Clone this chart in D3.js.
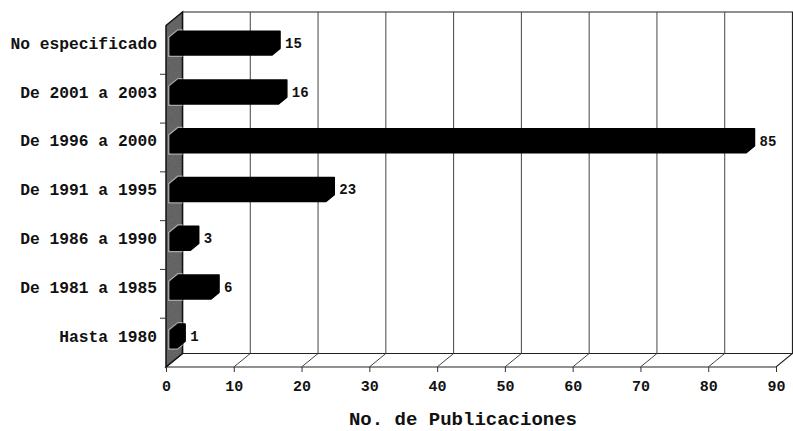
<!DOCTYPE html>
<html>
<head>
<meta charset="utf-8">
<script src="https://cdn.jsdelivr.net/npm/d3@7.9.0/dist/d3.min.js"></script>
<style>
  body { margin: 0; background: #fff; }
  text { font-family: "Courier New", "Liberation Mono", monospace; font-weight: bold; fill: #111; }
</style>
</head>
<body>
<svg id="chart" width="793" height="431"></svg>
<script>
const categories = ["No especificado", "De 2001 a 2003", "De 1996 a 2000", "De 1991 a 1995",
                    "De 1986 a 1990", "De 1981 a 1985", "Hasta 1980"];
const values = [15, 16, 85, 23, 3, 6, 1];
const tickValues = [0, 10, 20, 30, 40, 50, 60, 70, 80, 90];
const axisTitle = "No. de Publicaciones";

const svg = d3.select("#chart");

// 3d depth offset (full depth of the box)
const DX = 16.5, DY = 13.5;
const x = d3.scaleLinear().domain([0, 90]).range([166, 776]);
const y = d3.scaleBand().domain(categories).range([25.5, 367]);
const yTop = y.range()[0], yBot = y.range()[1];

const p = (px, py, d) => [px + DX * d, py - DY * d];
const poly = pts => "M" + pts.map(q => q.join(",")).join("L") + "Z";

// back wall
svg.append("path")
  .attr("d", poly([p(x(0), yTop, 1), p(x(90), yTop, 1), p(x(90), yBot, 1), p(x(0), yBot, 1)]))
  .attr("fill", "#fff").attr("stroke", "#222").attr("stroke-width", 1.2);

// vertical gridlines on back wall
svg.append("g").selectAll("line")
  .data(tickValues.slice(1, -1))
  .join("line")
  .attr("x1", d => p(x(d), yTop, 1)[0]).attr("x2", d => p(x(d), yBot, 1)[0])
  .attr("y1", p(0, yTop, 1)[1]).attr("y2", p(0, yBot, 1)[1])
  .attr("stroke", "#444").attr("stroke-width", 1);

// floor
svg.append("path")
  .attr("d", poly([p(x(0), yBot, 0), p(x(90), yBot, 0), p(x(90), yBot, 1), p(x(0), yBot, 1)]))
  .attr("fill", "#fff").attr("stroke", "#222").attr("stroke-width", 1.2);

svg.append("g").selectAll("line")
  .data(tickValues.slice(1, -1))
  .join("line")
  .attr("x1", d => x(d)).attr("y1", yBot)
  .attr("x2", d => p(x(d), yBot, 1)[0]).attr("y2", p(0, yBot, 1)[1])
  .attr("stroke", "#444").attr("stroke-width", 1);

// left side wall
const wallPts = [p(x(0), yTop, 0), p(x(0), yTop, 1), p(x(0), yBot, 1), p(x(0), yBot, 0)];
const defs = svg.append("defs");
const filt = defs.append("filter").attr("id", "grain");
filt.append("feTurbulence").attr("type", "fractalNoise").attr("baseFrequency", 0.9).attr("numOctaves", 2).attr("seed", 3).attr("result", "n");
filt.append("feColorMatrix").attr("in", "n").attr("type", "matrix")
  .attr("values", "0 0 0 0 0.15  0 0 0 0 0.15  0 0 0 0 0.15  0 0 0 1.1 0").attr("result", "g");
filt.append("feComposite").attr("in", "g").attr("in2", "SourceGraphic").attr("operator", "in").attr("result", "gc");
filt.append("feMerge").selectAll("feMergeNode").data(["SourceGraphic", "gc"]).join("feMergeNode").attr("in", d => d);

defs.append("clipPath").attr("id", "wallClip").append("path").attr("d", poly(wallPts));

svg.append("path")
  .attr("d", poly(wallPts))
  .attr("fill", "#5a5a5a").attr("filter", "url(#grain)");
svg.append("path")
  .attr("d", poly(wallPts))
  .attr("fill", "none").attr("stroke", "#111").attr("stroke-width", 1.5);

// bars
const f0 = 0.25, f1 = 0.75, half = 8.6;
function barPath(cat, v) {
  const c = y(cat) + y.bandwidth() / 2;
  const fT = p(x(0), c - half, f0), fB = p(x(0), c + half, f0);
  const bT = p(x(0), c - half, f1);
  const fvB = p(x(v), c + half, f0);
  const bvT = p(x(v), c - half, f1), bvB = p(x(v), c + half, f1);
  return poly([fT, bT, bvT, bvB, fvB, fB]);
}
const data = categories.map((c, i) => ({ cat: c, v: values[i] }));

svg.append("g").attr("clip-path", "url(#wallClip)").selectAll("path")
  .data(data).join("path")
  .attr("d", d => barPath(d.cat, d.v))
  .attr("fill", "none").attr("stroke", "#a8a8a8").attr("stroke-width", 4);

svg.append("g").selectAll("path")
  .data(data).join("path")
  .attr("d", d => barPath(d.cat, d.v))
  .attr("fill", "#000").attr("stroke", "#000").attr("stroke-width", 1.5)
  .attr("stroke-linejoin", "round");

// value labels
svg.append("g").selectAll("text")
  .data(data).join("text")
  .attr("x", d => p(x(d.v), 0, f1)[0] + 5)
  .attr("y", d => y(d.cat) + y.bandwidth() / 2 - DY * 0.5)
  .attr("dy", "0.35em")
  .style("font-size", "14px")
  .text(d => d.v);

// category labels and ticks
svg.append("g").selectAll("text")
  .data(categories).join("text")
  .attr("x", 157)
  .attr("y", d => y(d) + y.bandwidth() / 2 - DY * 0.5)
  .attr("dy", "0.35em")
  .attr("text-anchor", "end")
  .style("font-size", "16.3px")
  .text(d => d);

svg.append("g").selectAll("line")
  .data(categories.slice(1)).join("line")
  .attr("x1", x(0) - 6).attr("x2", x(0))
  .attr("y1", d => y(d)).attr("y2", d => y(d))
  .attr("stroke", "#333");

// bottom axis
const axis = svg.append("g")
  .attr("transform", `translate(0,${yBot})`)
  .call(d3.axisBottom(x).tickValues(tickValues).tickSize(5).tickPadding(8));
axis.select(".domain").remove();
axis.selectAll(".tick line").attr("stroke", "#333");
axis.selectAll(".tick text")
  .style("font-family", "'Courier New', 'Liberation Mono', monospace")
  .style("font-weight", "bold").style("font-size", "15px").attr("fill", "#111");

svg.append("text")
  .attr("x", 463).attr("y", 425)
  .attr("text-anchor", "middle")
  .style("font-size", "19px")
  .text(axisTitle);
</script>
</body>
</html>
